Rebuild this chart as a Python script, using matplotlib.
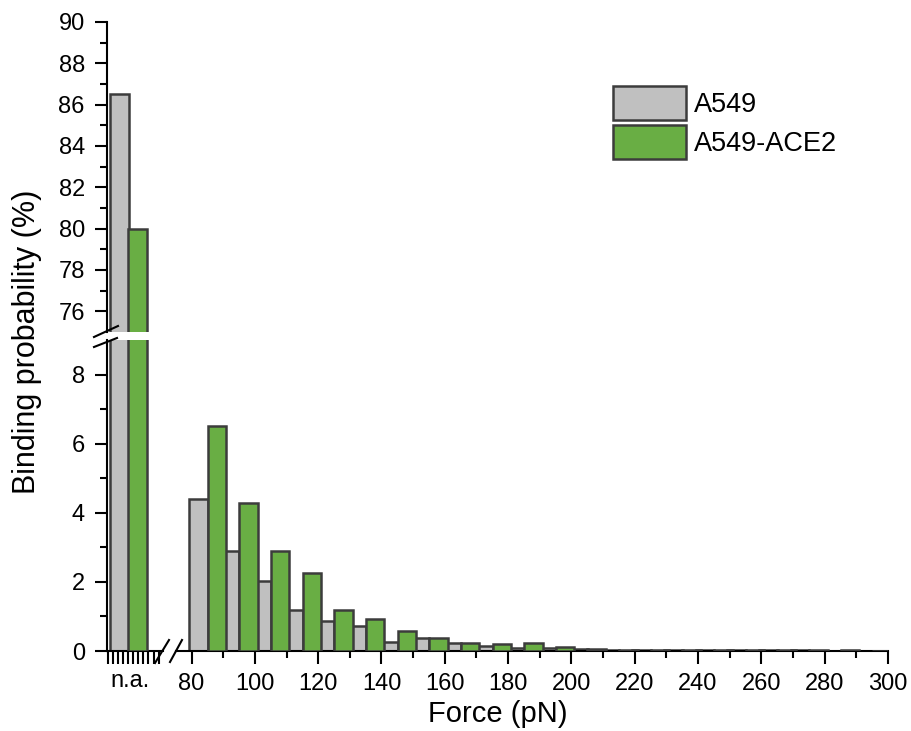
import numpy as np
import matplotlib
matplotlib.use("Agg")
import matplotlib.pyplot as plt
from matplotlib.lines import Line2D
from matplotlib.patches import Patch
import matplotlib.transforms as mtransforms

plt.rcParams['font.family'] = ['Liberation Sans', 'DejaVu Sans']

# data (binding probability in %)
force_bins = [80, 90, 100, 110, 120, 130, 140, 150, 160, 170, 180,
              190, 200, 210, 220, 230, 240, 250, 260, 270, 280, 290]
a549 = [4.41, 2.88, 2.03, 1.20, 0.87, 0.72, 0.25, 0.37, 0.24, 0.14, 0.10,
        0.08, 0.07, 0.04, 0.04, 0.03, 0.02, 0.03, 0.02, 0.02, 0.01, 0.01]
ace2 = [6.50, 4.28, 2.89, 2.26, 1.20, 0.92, 0.57, 0.38, 0.22, 0.20, 0.22,
        0.13, 0.06, 0.04, 0.03, 0.03, 0.02, 0.03, 0.03, 0.02, 0.02, 0.01]
na_a549 = 86.5
na_ace2 = 80.0
labels = ['A549', 'A549-ACE2']

gray = '#c0c0c0'
green = '#69ae44'
edge = '#3c3c3c'
na_pos = 55  # position of the "n.a." group on the x scale
w = 5.85
lw = 1.8

W, H = 911, 731
fig = plt.figure(figsize=(W / 100, H / 100), dpi=100)

def fx(px):
    return px / W

def fy(py):
    return 1 - py / H

left, right = fx(107), fx(888)
ax_lo = fig.add_axes([left, fy(651), right - left, fy(340) - fy(651)])
ax_hi = fig.add_axes([left, fy(332), right - left, fy(22) - fy(332)])

fb = np.array(force_bins)
for ax in (ax_lo, ax_hi):
    ax.bar(na_pos + 2.2, na_a549, width=w, color=gray, edgecolor=edge, linewidth=lw, zorder=2)
    ax.bar(na_pos + 8.0, na_ace2, width=w, color=green, edgecolor=edge, linewidth=lw, zorder=3)
    ax.set_xlim(53.3, 300)
    ax.spines['top'].set_visible(False)
    ax.spines['right'].set_visible(False)
    ax.spines['left'].set_linewidth(1.5)
    ax.tick_params(axis='y', which='major', length=9, width=1.5, labelsize=17, pad=7)
    ax.tick_params(axis='y', which='minor', length=5, width=1.5)

ax_lo.bar(fb + 2.2, a549, width=w, color=gray, edgecolor=edge, linewidth=lw, zorder=2)
ax_lo.bar(fb + 8.0, ace2, width=w, color=green, edgecolor=edge, linewidth=lw, zorder=3)

ax_lo.set_ylim(0, 9)
ax_lo.set_yticks([0, 2, 4, 6, 8])
ax_lo.set_yticks([1, 3, 5, 7], minor=True)
ax_hi.set_ylim(75, 90)
ax_hi.set_yticks(np.arange(76, 91, 2))
ax_hi.set_yticks(np.arange(77, 90, 2), minor=True)

ax_hi.spines['bottom'].set_visible(False)
ax_hi.set_xticks([])
ax_hi.patch.set_alpha(0)

# x axis: n.a. ticks + force ticks
na_ticks = list(np.linspace(53.5, 69.6, 11))
major = na_ticks + list(range(80, 301, 20))
ax_lo.set_xticks(major)
ax_lo.set_xticklabels([''] * len(na_ticks) + [str(v) for v in range(80, 301, 20)])
ax_lo.set_xticks(list(range(90, 300, 20)), minor=True)
ax_lo.tick_params(axis='x', which='major', length=9, width=1.5, labelsize=17, pad=7)
ax_lo.tick_params(axis='x', which='minor', length=5, width=1.5)
ax_lo.spines['bottom'].set_linewidth(1.5)
ax_lo.spines['bottom'].set_bounds(75.2, 300)
trans = mtransforms.blended_transform_factory(ax_lo.transData, ax_lo.transAxes)
ax_lo.add_line(Line2D([53.3, 71.0], [0, 0], transform=trans, color='black',
                      linewidth=1.5, clip_on=False))
ax_lo.text(60.5, -0.062, 'n.a.', transform=trans, ha='center', va='top', fontsize=17)

ax_lo.set_xlabel('Force (pN)', fontsize=21)
ax_lo.xaxis.set_label_coords(0.5, -0.158)

fig.text(fx(27), fy(342), 'Binding probability (%)', rotation=90,
         ha='center', va='center', fontsize=22)

# break marks
for (x0, y0, x1, y1) in [(155, 663, 169, 640), (170, 662, 182, 640),
                         (94, 337, 118, 326), (94, 347, 117, 338)]:
    fig.add_artist(Line2D([fx(x0), fx(x1)], [fy(y0), fy(y1)], color='black',
                          linewidth=1.5, transform=fig.transFigure))

handles = [Patch(facecolor=gray, edgecolor=edge, linewidth=lw),
           Patch(facecolor=green, edgecolor=edge, linewidth=lw)]
fig.legend(handles, labels, loc='upper left', bbox_to_anchor=(fx(613), fy(86)),
           frameon=False, fontsize=19.5, borderpad=0, borderaxespad=0,
           handlelength=2.7, handleheight=1.55, handletextpad=0.3, labelspacing=0.2)

fig.savefig('out.png', dpi=100)
